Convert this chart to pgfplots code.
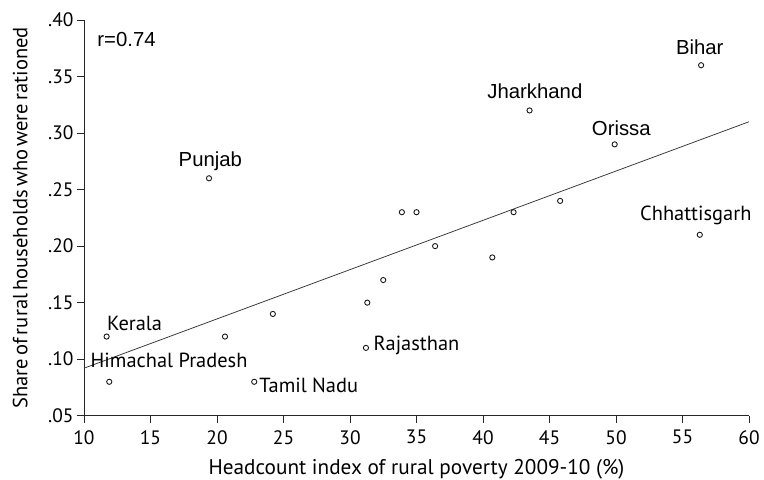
\documentclass[border=0pt]{standalone}
\usepackage{fontspec}
\setmainfont{PT Sans}
\newfontfamily\arial{Liberation Sans}
\usepackage{pgfplots}
\pgfplotsset{compat=1.18}

\begin{document}
\begin{tikzpicture}
\path[use as bounding box] (0,0) rectangle (764bp,480bp);
\begin{axis}[
    at={(84bp,64.3bp)}, anchor=south west,
    scale only axis, width=665bp, height=395.7bp,
    xmin=10, xmax=60, ymin=0.05, ymax=0.40,
    axis x line*=bottom, axis y line*=left,
    axis line style={-, line width=0.9pt, black!85},
    xtick={10,15,20,25,30,35,40,45,50,55,60},
    ytick={0.05,0.10,0.15,0.20,0.25,0.30,0.35,0.40},
    yticklabels={.05,.10,.15,.20,.25,.30,.35,.40},
    tick align=outside, major tick length=7bp,
    tick style={black!85, line width=0.9pt},
    ticklabel style={font=\fontsize{19.5}{22}\selectfont, text=black},
    xticklabel style={yshift=-4bp},
    /pgf/number format/assume math mode=true,
    xlabel={Headcount index of rural poverty 2009-10 (\%)},
    ylabel={\spaceskip=0.16em Share of rural households who were rationed},
    xlabel style={font=\fontsize{21.3}{24}\selectfont, text=black,
                  anchor=base, at={(axis description cs:0.5,-0.149)}},
    ylabel style={font=\fontsize{20.6}{24}\selectfont, text=black,
                  anchor=base, at={(axis description cs:-0.085,0.5)}},
    clip=false,
]
% regression line
\addplot[black!80, line width=0.75pt] coordinates {(10,0.092) (60,0.310)};

% states
\addplot[only marks, mark=o, mark size=2.6bp,
         mark options={line width=0.9pt, black!90}] coordinates {
    (19.4,0.26) (56.4,0.36) (43.5,0.32) (49.9,0.29)
    (33.9,0.23) (35.0,0.23) (42.3,0.23) (45.8,0.24)
    (56.3,0.21) (36.4,0.20) (40.7,0.19) (32.5,0.17)
    (31.3,0.15) (24.2,0.14) (20.6,0.12) (11.7,0.12)
    (11.9,0.08) (22.8,0.08) (31.2,0.11)
};

\begin{scope}[every node/.style={text=black}]
\node[font=\arial\fontsize{20.4}{23}\selectfont] at (axis cs:13.2,0.383) {r=0.74};
\node[font=\arial\fontsize{20.4}{23}\selectfont] at (axis cs:19.5,0.275) {Punjab};
\node[font=\arial\fontsize{20.4}{23}\selectfont] at (axis cs:43.9,0.337) {Jharkhand};
\node[font=\arial\fontsize{20.4}{23}\selectfont] at (axis cs:50.4,0.304) {Orissa};
\node[font=\arial\fontsize{20.4}{23}\selectfont] at (axis cs:56.3,0.376) {Bihar};
\node[font=\fontsize{20.5}{23}\selectfont] at (axis cs:56.0,0.227) {Chhattisgarh};
\node[font=\fontsize{20.5}{23}\selectfont] at (axis cs:13.8,0.132) {Kerala};
\node[font=\fontsize{20.5}{23}\selectfont] at (axis cs:16.4,0.099) {Himachal Pradesh};
\node[font=\fontsize{20.5}{23}\selectfont] at (axis cs:26.9,0.077) {Tamil Nadu};
\node[font=\fontsize{20.5}{23}\selectfont] at (axis cs:35.0,0.112) {Rajasthan};
\end{scope}
\end{axis}
\end{tikzpicture}
\end{document}
